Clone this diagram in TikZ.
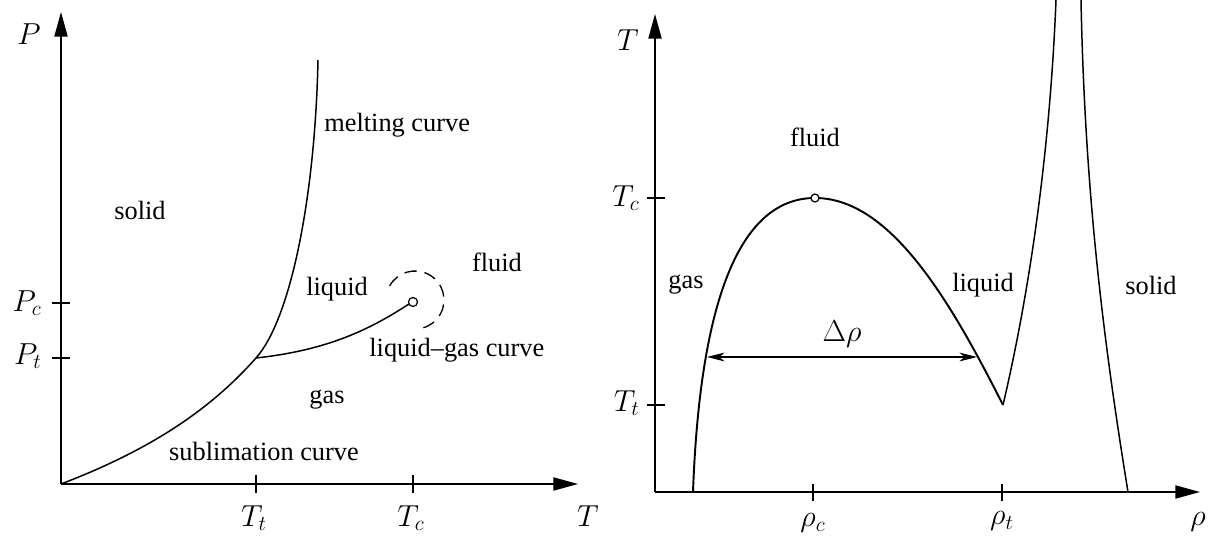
\documentclass[tikz,border=0pt]{standalone}
\usepackage{fontspec}
\setmainfont{Liberation Serif}
\usetikzlibrary{arrows.meta,positioning,calc}

\begin{document}
\begin{tikzpicture}[x=0.02cm,y=-0.02cm,
  font=\fontsize{15}{18}\selectfont,
  axis/.style={draw,line width=0.75pt,-{Triangle[length=14pt,width=7.5pt]}},
  tickmark/.style={draw,line width=0.75pt},
  curve/.style={draw,line width=0.85pt},
  coex/.style={draw,line width=1.1pt},
  critpt/.style={draw,line width=0.7pt,fill=white},
  mlabel/.style={font=\fontsize{17.5}{20}\selectfont,inner sep=0pt},
  region/.style={inner sep=0pt},
  gap/.style={draw,line width=0.6pt,{Stealth[length=10pt,width=5pt,inset=3pt]}-{Stealth[length=10pt,width=5pt,inset=3pt]}}
]
\useasboundingbox (0,0) rectangle (1215,536);

% P-T plane
\coordinate (o1) at (61,484);
\coordinate (tp1) at (256,358);
\coordinate (cp1) at (413,302);
\draw[axis] (o1) -- (61,12) coordinate (ptop);
\draw[axis] (o1) -- (578,484) coordinate (tright);
\node[mlabel] (P) at (29,34) {$P$};
\node[mlabel] (T1) at (588,516) {$T$};

\draw[tickmark] (52,303) -- (70,303);
\draw[tickmark] (52,358) -- (70,358);
\node[mlabel,anchor=east] (Pc) at (42,303) {$P_c$};
\node[mlabel,anchor=east] (Pt) at (42,356) {$P_t$};
\draw[tickmark] (256,475) -- (256,493);
\draw[tickmark] (413,475) -- (413,493);
\node[mlabel] (Tt1) at (254,518) {$T_t$};
\node[mlabel] (Tc1) at (411,518) {$T_c$};

\draw[curve] (o1) .. controls (150,450) and (210,410) .. (tp1);
\draw[curve] (tp1) .. controls (290,320) and (315,200) .. (318,60);
\draw[curve] (tp1) .. controls (330,350) and (372,328) .. ($(cp1)+(-4,2)$);
\draw[critpt] (cp1) circle[radius=4.5];
\draw[line width=0.75pt,dash pattern=on 7pt off 4.5pt]
  (415,300) ++(-151:29) arc[start angle=-151,end angle=75,radius=29];

\node[region,anchor=west] (melt) at (324,125) {melting curve};
\node[region] (solid1) at (140,210) {solid};
\node[region] (liquid1) at (337,289) {liquid};
\node[region] (fluid1) at (497,262) {fluid};
\node[region,anchor=west] (lgcurve) at (369,350) {liquid--gas curve};
\node[region] (gas1) at (327,400) {gas};
\node[region] (subl) at (264,451) {sublimation curve};

% T-rho plane
\coordinate (o2) at (655,492);
\coordinate (cp2) at (815,198);
\coordinate (tp2) at (1003,405);
\draw[axis] (o2) -- (655,14) coordinate (ttop);
\draw[axis] (o2) -- (1200,492) coordinate (rright);
\node[mlabel] (T2) at (628,40) {$T$};
\node[mlabel] (rho) at (1198,522) {$\rho$};

\draw[tickmark] (647,198) -- (665,198);
\draw[tickmark] (647,405) -- (665,405);
\node[mlabel,anchor=east] (Tc2) at (640,198) {$T_c$};
\node[mlabel,anchor=east] (Tt2) at (640,403) {$T_t$};
\draw[tickmark] (813,484) -- (813,501);
\draw[tickmark] (1002,484) -- (1002,501);
\node[mlabel] (rhoc) at (813,523) {$\rho_c$};
\node[mlabel] (rhot) at (1002,521) {$\rho_t$};

\draw[coex] (693,492) .. controls (700,300) and (740,198) .. (cp2)
  .. controls (890,198) and (950,300) .. (tp2);
\draw[critpt] (cp2) circle[radius=4];
\draw[curve] (tp2) .. controls (1030,290) and (1050,150) .. (1056,0);
\draw[curve] (1081,0) .. controls (1085,200) and (1105,350) .. (1128,492);

\coordinate (dl) at (707,357);
\coordinate (dr) at (977,357);
\draw[gap] (dl) -- node[mlabel,above=5pt] (drho) {$\Delta\rho$} (dr);

\node[region] (fluid2) at (815,137) {fluid};
\node[region] (gas2) at (686,285) {gas};
\node[region] (liquid2) at (983,285) {liquid};
\node[region] (solid2) at (1151,285) {solid};
\end{tikzpicture}
\end{document}
